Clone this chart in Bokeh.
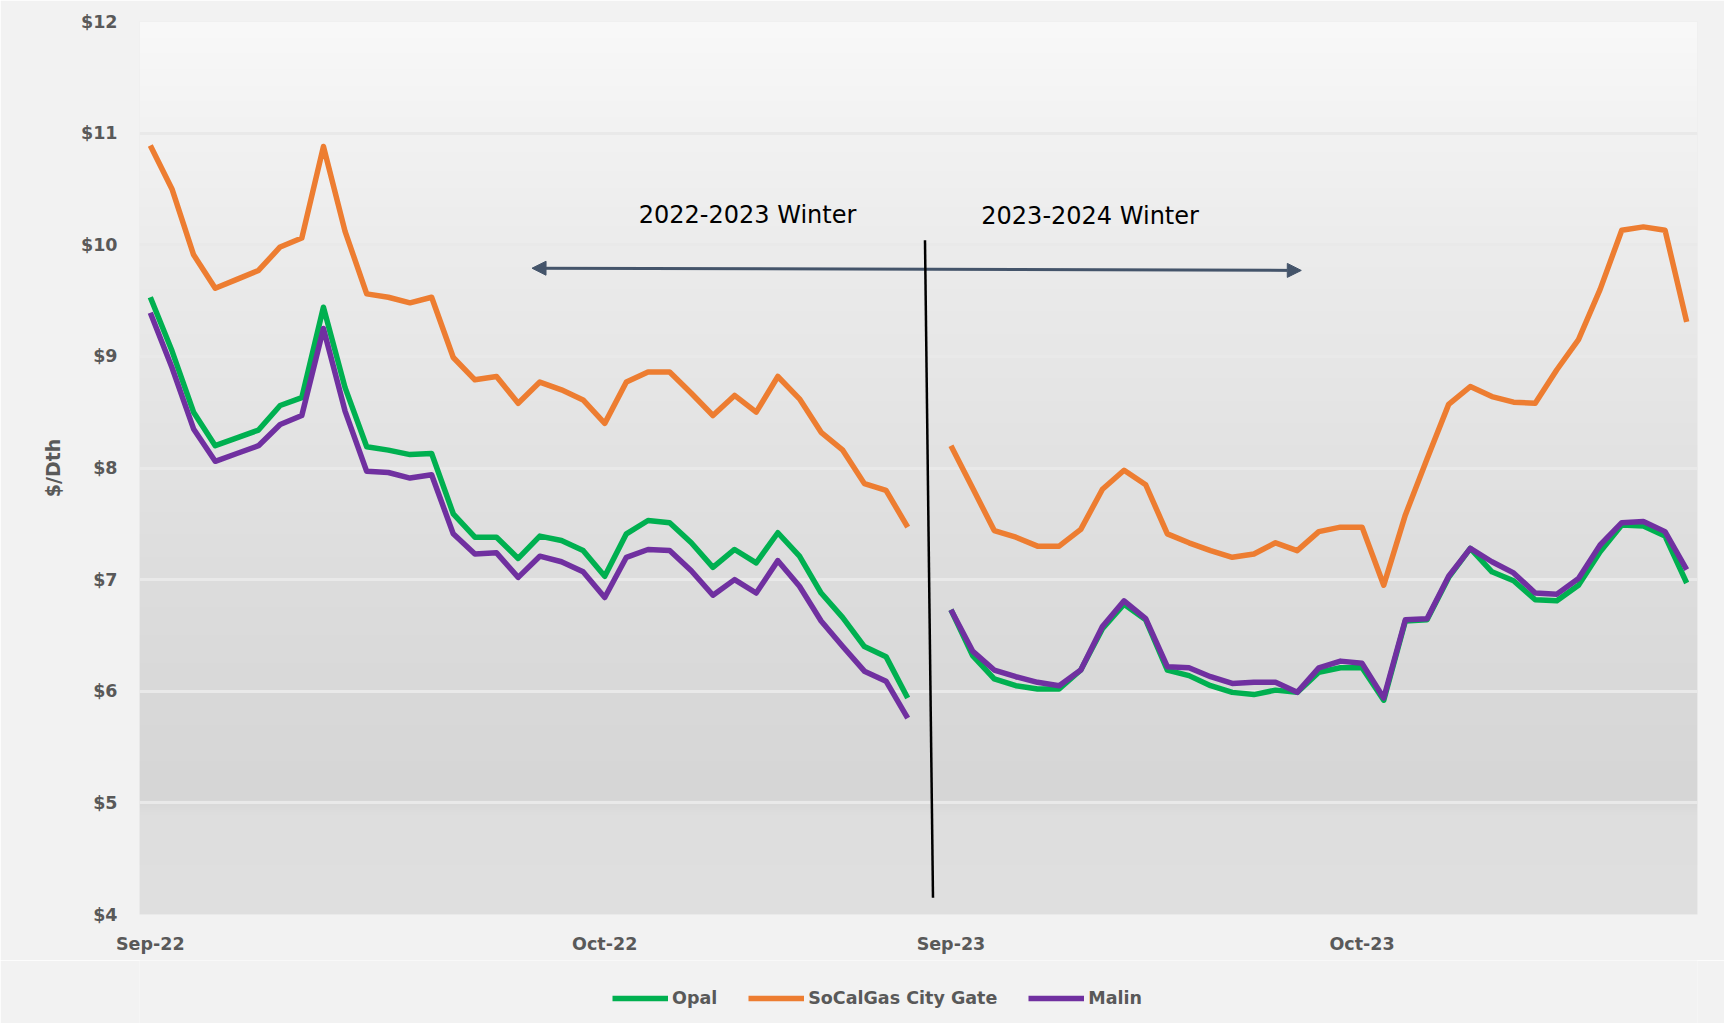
import numpy as np
from bokeh.plotting import figure
from bokeh.layouts import column
from bokeh.models import (FixedTicker, NumeralTickFormatter, Legend, Label,
                          Arrow, NormalHead, ColumnDataSource)
from bokeh.embed import file_html
from bokeh.resources import INLINE

nan = float("nan")

# ---- data (trading-day index; index 36 is the blank gap between winters) ----
day_index = list(range(72))
tick_positions = [0, 21, 37, 56]
tick_labels = ["Sep-22", "Oct-22", "Sep-23", "Oct-23"]

opal = [9.53, 9.05, 8.50, 8.20, 8.27, 8.34, 8.56, 8.63, 9.44, 8.72,
        8.19, 8.16, 8.12, 8.13, 7.59, 7.38, 7.38, 7.19, 7.39, 7.35,
        7.26, 7.03, 7.41, 7.53, 7.51, 7.33, 7.11, 7.27, 7.15, 7.42,
        7.21, 6.88, 6.66, 6.40, 6.31, 5.94, nan,
        6.73, 6.32, 6.11, 6.05, 6.02, 6.02, 6.19, 6.56, 6.78, 6.64,
        6.19, 6.14, 6.05, 5.99, 5.97, 6.01, 5.99, 6.17, 6.21, 6.21,
        5.92, 6.63, 6.64, 7.02, 7.28, 7.07, 6.99, 6.82, 6.81, 6.95,
        7.25, 7.49, 7.48, 7.39, 6.97]

socal = [10.89, 10.50, 9.91, 9.61, 9.69, 9.77, 9.98, 10.06, 10.88, 10.12,
         9.56, 9.53, 9.48, 9.53, 8.99, 8.79, 8.82, 8.58, 8.77, 8.70,
         8.61, 8.40, 8.77, 8.86, 8.86, 8.67, 8.47, 8.65, 8.50, 8.82,
         8.62, 8.32, 8.16, 7.86, 7.80, 7.47, nan,
         8.20, 7.82, 7.44, 7.38, 7.30, 7.30, 7.45, 7.81, 7.98, 7.85,
         7.41, 7.33, 7.26, 7.20, 7.23, 7.33, 7.26, 7.43, 7.47, 7.47,
         6.95, 7.58, 8.08, 8.57, 8.73, 8.64, 8.59, 8.58, 8.88, 9.15,
         9.60, 10.13, 10.16, 10.13, 9.31]

malin = [9.39, 8.90, 8.35, 8.06, 8.13, 8.20, 8.39, 8.47, 9.25, 8.51,
         7.97, 7.96, 7.91, 7.94, 7.41, 7.23, 7.24, 7.02, 7.21, 7.16,
         7.07, 6.84, 7.20, 7.27, 7.26, 7.08, 6.86, 7.00, 6.88, 7.17,
         6.94, 6.63, 6.40, 6.18, 6.09, 5.76, nan,
         6.73, 6.36, 6.19, 6.13, 6.08, 6.05, 6.19, 6.58, 6.81, 6.65,
         6.22, 6.21, 6.13, 6.07, 6.08, 6.08, 5.99, 6.21, 6.27, 6.25,
         5.94, 6.64, 6.65, 7.03, 7.28, 7.16, 7.06, 6.88, 6.87, 7.01,
         7.31, 7.51, 7.52, 7.43, 7.09]

series_names = ["Opal", "SoCalGas City Gate", "Malin"]
series_colors = ["#00B050", "#ED7D31", "#7030A0"]
y_ticks = [4, 5, 6, 7, 8, 9, 10, 11, 12]

# annotation anchors (data coords)
winter1_text = ("2022-2023 Winter", 27.6, 10.27)
winter2_text = ("2023-2024 Winter", 43.43, 10.26)
arrow_xy = (17.64, 9.79, 53.19, 9.77)
divider_xy = (35.80, 10.04, 36.17, 4.15)

BG = "#F2F2F2"
label_font = "DejaVu Sans"
gray = "#595959"
lw = 5.5

# ---- main figure ----
p = figure(width=1724, height=960, x_range=(-0.5, 71.5), y_range=(4, 12),
           output_backend="svg", toolbar_location=None,
           min_border_left=139, min_border_right=27, min_border_top=21,
           min_border_bottom=46)
p.border_fill_color = BG
p.background_fill_color = "#E4E4E4"
p.outline_line_color = None

# vertical gradient for plot area background
ys = np.linspace(4, 12, 800)
stop_v = [4.0, 4.9, 5.05, 6, 7, 8, 9, 10, 11, 12]
stop_c = [0xE0, 0xDE, 0xD6, 0xD9, 0xDD, 0xE2, 0xE7, 0xEC, 0xF2, 0xF9]
g = np.interp(ys, stop_v, stop_c).astype(np.uint32)
rgba = ((np.uint32(255) << 24) | (g << 16) | (g << 8) | g).reshape(800, 1)
p.image_rgba(image=[rgba], x=-0.5, y=4, dw=72, dh=8, level="image")

src = ColumnDataSource(dict(x=day_index, opal=opal, socal=socal, malin=malin))
for col, c in zip(["opal", "socal", "malin"], series_colors):
    p.line("x", col, source=src, line_color=c, line_width=lw, line_join="round")

for ax in (p.xaxis[0], p.yaxis[0]):
    ax.axis_line_color = None
    ax.major_tick_line_color = None
    ax.minor_tick_line_color = None
    ax.major_tick_in = 0
    ax.major_tick_out = 0
    ax.major_label_text_font = label_font
    ax.major_label_text_font_style = "bold"
    ax.major_label_text_font_size = "17.5px"
    ax.major_label_text_color = gray

p.xaxis.ticker = FixedTicker(ticks=tick_positions)
p.xaxis.major_label_overrides = {t: l for t, l in zip(tick_positions, tick_labels)}
p.xaxis.major_label_standoff = 19

p.yaxis.ticker = FixedTicker(ticks=y_ticks)
p.yaxis.formatter = NumeralTickFormatter(format="$0")
p.yaxis.major_label_standoff = 22
p.yaxis.axis_label = "$/Dth"
p.yaxis.axis_label_text_font = label_font
p.yaxis.axis_label_text_font_style = "bold"
p.yaxis.axis_label_text_font_size = "19px"
p.yaxis.axis_label_text_color = gray
p.yaxis.axis_label_standoff = 14

p.xgrid.grid_line_color = None
p.ygrid.grid_line_color = "#E9E9E9"
p.ygrid.grid_line_width = 3

for txt, tx, ty in (winter1_text, winter2_text):
    p.add_layout(Label(x=tx, y=ty, text=txt, text_align="center", text_baseline="middle",
                       text_font="DejaVu Sans", text_font_size="24px", text_color="black"))

arrow_color = "#44546A"
p.add_layout(Arrow(start=NormalHead(size=14, fill_color=arrow_color, line_color=arrow_color),
                   end=NormalHead(size=14, fill_color=arrow_color, line_color=arrow_color),
                   x_start=arrow_xy[0], y_start=arrow_xy[1], x_end=arrow_xy[2], y_end=arrow_xy[3],
                   line_color=arrow_color, line_width=3))
p.add_layout(Arrow(end=None, x_start=divider_xy[0], y_start=divider_xy[1],
                   x_end=divider_xy[2], y_end=divider_xy[3],
                   line_color="black", line_width=2.5))

# ---- legend strip below the chart (frame aligned with the chart's frame) ----
leg = figure(width=1724, height=63, x_range=(0, 1), y_range=(0, 1),
             output_backend="svg", toolbar_location=None,
             x_axis_location=None, y_axis_location=None,
             min_border_left=0, min_border_right=0, min_border_top=0, min_border_bottom=0)
leg.grid.visible = False
leg.outline_line_color = None
leg.background_fill_color = BG
leg.border_fill_color = BG
items = []
for name, c in zip(series_names, series_colors):
    # off-range proxy line, only used to draw the legend swatch
    r = leg.line(x=[-5, -4], y=[-5, -5], line_color=c, line_width=lw)
    items.append((name, [r]))
legend = Legend(items=items, orientation="horizontal", location=(473, 15),
                glyph_width=56, glyph_height=20, label_standoff=4, spacing=31,
                padding=5, margin=0, background_fill_alpha=0, border_line_color=None,
                label_text_font=label_font, label_text_font_style="bold",
                label_text_font_size="17.5px", label_text_color=gray)
leg.add_layout(legend)

open("out.html", "w").write(file_html(column(p, leg, spacing=0), INLINE))
